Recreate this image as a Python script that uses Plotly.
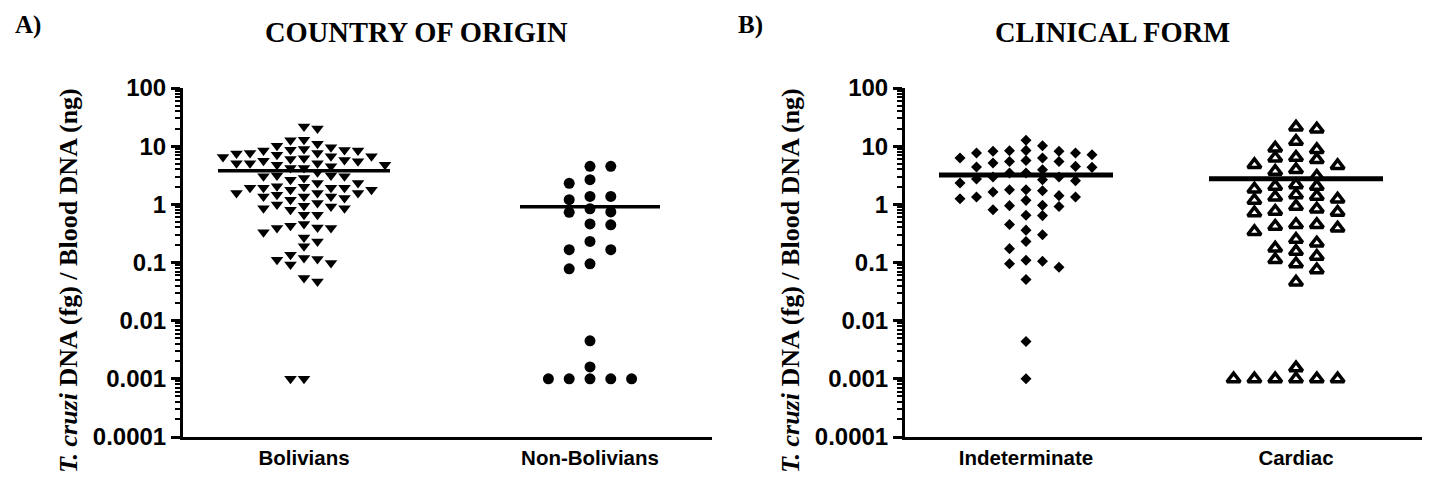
import numpy as np
import plotly.graph_objects as go

# ---------------- data ----------------
panel_a_categories = ["Bolivians", "Non-Bolivians"]
panel_b_categories = ["Indeterminate", "Cardiac"]

bolivians = [
    21.8, 20.2,
    12.9, 12.6,
    10.2, 8.4, 11.0, 8.6, 8.7, 8.9, 9.6, 8.4,
    6.0, 6.7, 7.1, 7.6, 5.5, 5.6, 5.8, 7.6, 7.5, 6.2, 6.5, 6.7,
    4.2, 4.5, 5.1, 4.8, 5.1, 5.1, 4.8, 4.2,
    2.84, 3.13, 3.04, 3.56, 3.04, 3.13, 2.65,
    1.92, 2.33, 2.05, 1.78, 1.78, 2.33, 2.0, 1.92, 1.56, 1.37, 1.92, 1.92,
    1.37, 1.37, 1.56, 1.56, 1.46, 1.2, 1.28, 0.99, 0.86,
    0.81, 0.95, 1.05, 0.92, 0.86,
    0.66, 0.66,
    0.39, 0.39, 0.43, 0.33, 0.46, 0.40,
    0.27, 0.19, 0.23,
    0.115, 0.136, 0.092, 0.098, 0.12, 0.112,
    0.047, 0.054,
    0.001, 0.001,
]

non_bolivians = [
    4.5, 4.5,
    2.65,
    2.3,
    1.2, 1.37, 1.37,
    0.74, 0.73, 0.84,
    0.46, 0.445,
    0.23,
    0.166, 0.166,
    0.078, 0.095,
    0.0045,
    0.0016,
    0.001, 0.001, 0.001, 0.001, 0.001,
]

indeterminate = [
    12.6,
    10.2,
    6.25, 5.69, 8.15, 5.47, 8.36, 8.15, 8.46, 7.13, 7.62, 6.25, 7.62,
    4.32, 3.94, 5.12, 5.47, 4.38, 4.49,
    2.72, 3.45, 3.45, 2.95, 2.95, 2.65, 2.55,
    2.33,
    1.78, 1.78, 1.71, 1.63,
    1.34, 1.41, 1.25, 1.34, 1.17,
    0.95, 0.81, 0.92, 0.96,
    0.65, 0.64, 0.45,
    0.30, 0.36, 0.23,
    0.173,
    0.095, 0.105, 0.109,
    0.083, 0.051,
    0.0044, 0.001,
]

cardiac = [
    21.3, 19.7,
    12.1,
    8.69, 9.27,
    5.85, 6.41, 6.25,
    3.68, 4.80, 4.61, 3.94,
    3.02,
    2.17, 2.03, 2.03,
    1.83, 1.46, 1.33, 1.23,
    1.17, 1.37, 0.92, 0.83, 0.71,
    0.76, 0.73,
    0.45, 0.42, 0.39, 0.45,
    0.25, 0.34, 0.216,
    0.155, 0.177, 0.112, 0.128, 0.095,
    0.075, 0.046,
    0.00154, 0.001, 0.001, 0.001, 0.001, 0.001, 0.001,
]

y_tickvals = [0.0001, 0.001, 0.01, 0.1, 1, 10, 100]
y_ticktext = ["0.0001", "0.001", "0.01", "0.1", "1", "10", "100"]

# ---------------- geometry (page pixels; the page body has an 8px margin) ----------------
PAGE_OFF = 8
FW, FH = 1434 - 2 * PAGE_OFF, 482 - 2 * PAGE_OFF


def fx(px):
    return (px - PAGE_OFF) / FW


def fy(py):
    return 1 - (py - PAGE_OFF) / FH


ax_top, ax_bot = 88, 437
px_per_decade = (ax_bot - ax_top) / 6.0

a_left, a_right = 183, 712
b_left, b_right = 905, 1422
a_c0, a_c1 = 304, 590
b_c0, b_c1 = 1026, 1296
a_ppu = a_c1 - a_c0
b_ppu = b_c1 - b_c0


def swarm(values, spacing_px, ppu, min_dy_px):
    """Column scatter: each point takes the free grid column nearest the centre."""
    ypx = np.log10(np.asarray(values, dtype=float)) * px_per_decade
    order = np.argsort(-ypx, kind="stable")
    placed = {}
    cols = np.zeros(len(values))
    for i in order:
        best = 0
        for d in range(0, 40):
            cands = [0] if d == 0 else [d, -d]
            free = [c for c in cands
                    if all(abs(ypx[i] - y) >= min_dy_px for y in placed.get(c, []))]
            if free:
                if len(free) == 2:
                    nr = sum(len(v) for c, v in placed.items() if c > 0)
                    nl = sum(len(v) for c, v in placed.items() if c < 0)
                    best = free[1] if nr > nl else free[0]
                else:
                    best = free[0]
                break
        placed.setdefault(best, []).append(ypx[i])
        cols[i] = best
    return cols * spacing_px / ppu


fig = go.Figure()

groups = [
    # values, cat, xaxis, yaxis, ppu, spacing, min_dy, symbol, size, marker line, mean lw, half width px
    (bolivians, 0, "x", "y", a_ppu, 13.5, 8.5, "triangle-down", 11, 0, 3.5, 86),
    (non_bolivians, 1, "x", "y", a_ppu, 20.8, 11.5, "circle", 11, 0, 3.5, 70),
    (indeterminate, 0, "x2", "y2", b_ppu, 16.5, 10, "diamond", 8.5, 0, 5, 87),
    (cardiac, 1, "x2", "y2", b_ppu, 20.8, 9, "triangle-up-open", 11.5, 3.5, 5, 87),
]

for vals, ci, xa, ya, ppu, sp, mdy, sym, size, mlw, lw, hw in groups:
    off = swarm(vals, sp, ppu, mdy)
    fig.add_trace(go.Scatter(
        x=ci + off, y=vals, xaxis=xa, yaxis=ya, mode="markers",
        marker=dict(symbol=sym, size=size, color="black",
                    line=dict(width=mlw, color="black")),
        showlegend=False, hoverinfo="y",
    ))
    m = float(np.mean(vals))
    fig.add_trace(go.Scatter(
        x=[ci - hw / ppu, ci + hw / ppu], y=[m, m], xaxis=xa, yaxis=ya,
        mode="lines", line=dict(color="black", width=lw),
        showlegend=False, hoverinfo="skip",
    ))

minor_vals = [m * 10.0 ** e for e in range(-4, 2) for m in range(2, 10)]

ytickfont = dict(family="Liberation Sans, Arial", size=24, color="black", weight="bold")
xtickfont = dict(family="Liberation Sans, Arial", size=20.5, color="black", weight="bold")

yaxis_common = dict(
    type="log", range=[-4, 2], tickmode="array", tickvals=y_tickvals,
    ticktext=y_ticktext, ticks="outside", ticklen=9, tickwidth=2.5,
    tickcolor="black", showline=True, linewidth=3, linecolor="black",
    showgrid=False, zeroline=False, tickfont=ytickfont, automargin=False,
    minor=dict(tickmode="array", tickvals=minor_vals, ticks="outside",
               ticklen=5, tickwidth=1.5, tickcolor="black", showgrid=False),
    domain=[fy(ax_bot), fy(ax_top)],
)

xaxis_common = dict(
    tickmode="array", tickvals=[0, 1], ticks="", showline=True, linewidth=3,
    linecolor="black", showgrid=False, zeroline=False, tickfont=xtickfont,
    automargin=False,
)

fig.update_layout(
    width=FW, height=FH,
    margin=dict(l=0, r=0, t=0, b=0, autoexpand=False),
    paper_bgcolor="white", plot_bgcolor="white",
    xaxis=dict(xaxis_common, ticktext=panel_a_categories,
               range=[(a_left - a_c0) / a_ppu, (a_right - a_c0) / a_ppu],
               domain=[fx(a_left), fx(a_right)], anchor="y"),
    yaxis=dict(yaxis_common, anchor="x"),
    xaxis2=dict(xaxis_common, ticktext=panel_b_categories,
                range=[(b_left - b_c0) / b_ppu, (b_right - b_c0) / b_ppu],
                domain=[fx(b_left), fx(b_right)], anchor="y2"),
    yaxis2=dict(yaxis_common, anchor="x2"),
)

serif_big = dict(family="Liberation Serif, Times New Roman", size=28.5, color="black")
serif_lbl = dict(family="Liberation Serif, Times New Roman", size=25, color="black")
serif_y = dict(family="Liberation Serif, Times New Roman", size=26, color="black")
ytitle = "<b><i>T. cruzi</i> DNA (fg) / Blood DNA (ng)</b>"
ann = [
    dict(text="<b>A)</b>", x=fx(28), y=fy(25), font=serif_lbl),
    dict(text="<b>B)</b>", x=fx(750), y=fy(25), font=serif_lbl),
    dict(text="<b>COUNTRY OF ORIGIN</b>", x=fx(416), y=fy(33), font=serif_big),
    dict(text="<b>CLINICAL FORM</b>", x=fx(1112), y=fy(33), font=serif_big),
    dict(text=ytitle, x=fx(68), y=fy(281), textangle=-90, font=serif_y),
    dict(text=ytitle, x=fx(790), y=fy(281), textangle=-90, font=serif_y),
]
for a in ann:
    a.update(xref="paper", yref="paper", showarrow=False,
             xanchor="center", yanchor="middle")
fig.update_layout(annotations=ann)

fig.write_html("out.html")
